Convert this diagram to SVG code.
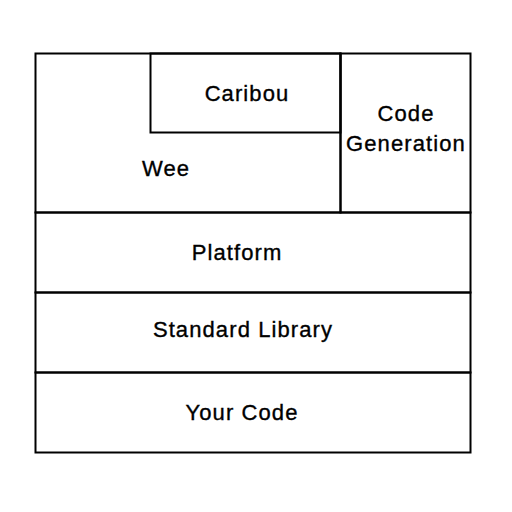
<svg xmlns="http://www.w3.org/2000/svg" width="512" height="512" viewBox="0 0 512 512">
<style>
.box{fill:none;stroke:#000;stroke-width:2}
.t{font-family:"Liberation Sans",Arial,sans-serif;font-size:22px;fill:#000;stroke:#000;stroke-width:0.35;text-anchor:middle;letter-spacing:1.1px}
</style>
<rect x="0" y="0" width="512" height="512" fill="#fff"/>
<g id="wee"><rect class="box" x="35.5" y="53.5" width="305" height="159"/><text class="t" x="166" y="176">Wee</text></g>
<g id="caribou"><rect class="box" x="150.5" y="53.5" width="190" height="79"/><text class="t" x="247" y="101">Caribou</text></g>
<g id="codegen"><rect class="box" x="340.5" y="53.5" width="130" height="159"/><text class="t" x="406" y="121">Code</text><text class="t" x="406" y="151">Generation</text></g>
<g id="platform"><rect class="box" x="35.5" y="212.5" width="435" height="80"/><text class="t" x="237" y="260">Platform</text></g>
<g id="stdlib"><rect class="box" x="35.5" y="292.5" width="435" height="80"/><text class="t" x="243" y="337">Standard Library</text></g>
<g id="yourcode"><rect class="box" x="35.5" y="372.5" width="435" height="80"/><text class="t" x="242" y="420">Your Code</text></g>
<g id="connectors"></g>
</svg>
